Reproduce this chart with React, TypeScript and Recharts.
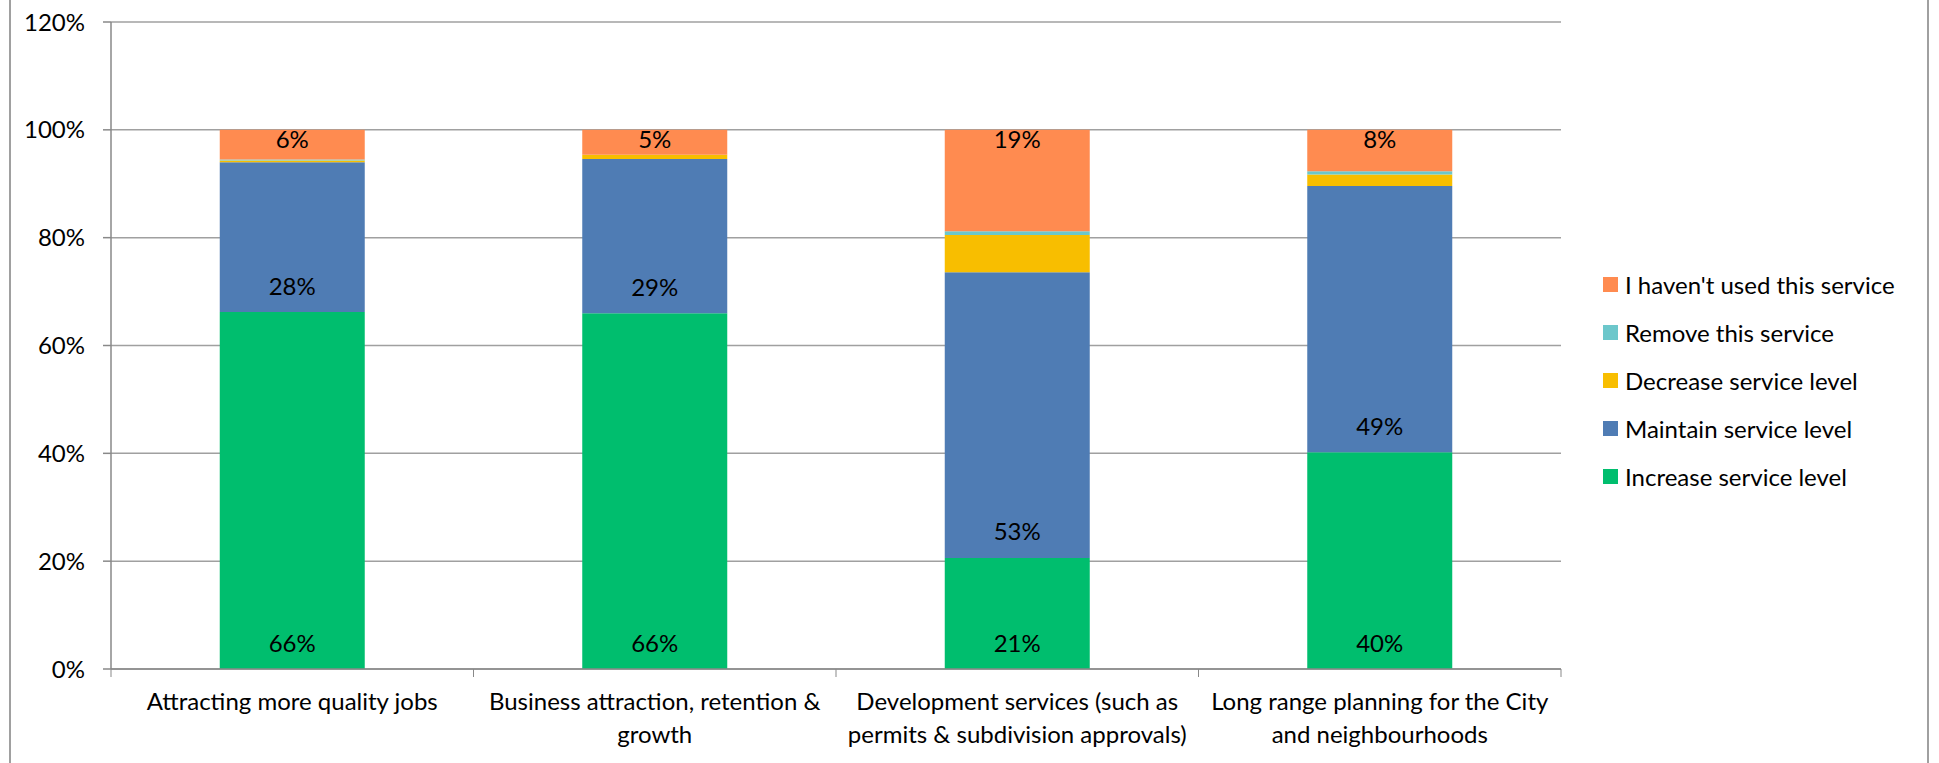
import { BarChart, Bar, XAxis, YAxis, CartesianGrid, Legend, LabelList } from 'recharts'

// service areas, bottom-to-top stack values in percent
const categories = [
  'Attracting more quality jobs',
  'Business attraction, retention &\ngrowth',
  'Development services (such as\npermits & subdivision approvals)',
  'Long range planning for the City\nand neighbourhoods',
]
const increase = [66.2, 66.0, 20.6, 40.2]
const maintain = [27.8, 28.6, 53.0, 49.4]
const decrease = [0.3, 0.8, 6.9, 2.1]
const remove = [0.2, 0, 0.7, 0.6]
const notUsed = [5.5, 4.6, 18.8, 7.7]
const yTicks = [0, 20, 40, 60, 80, 100, 120]

const seriesNames = {
  increase: 'Increase service level',
  maintain: 'Maintain service level',
  decrease: 'Decrease service level',
  remove: 'Remove this service',
  notUsed: "I haven't used this service",
}
// legend reads top-to-bottom opposite to the stack
const legendOrder = ['notUsed', 'remove', 'decrease', 'maintain', 'increase']

const FONT = 'Lato, "Open Sans", sans-serif'
const FS = 24
const W = 1939
const H = 763
const M = { top: 22, right: 378, bottom: 0, left: 0 }
const Y_AXIS_W = 111
const X_AXIS_H = 94
const PLOT_W = W - M.left - M.right - Y_AXIS_W
const PLOT_BOTTOM = H - X_AXIS_H
const BAND = PLOT_W / categories.length
const AXIS_COLOR = '#898989'

const data = categories.map((name, i) => ({
  name,
  increase: increase[i],
  maintain: maintain[i],
  decrease: decrease[i],
  remove: remove[i],
  notUsed: notUsed[i],
}))

function CategoryTick(props: any) {
  const { x, y, payload, index } = props
  const lines = String(payload.value).split('\n')
  const half = BAND / 2
  return (
    <g>
      <line x1={x - half} x2={x - half} y1={PLOT_BOTTOM} y2={PLOT_BOTTOM + 8} stroke={AXIS_COLOR} />
      {index === categories.length - 1 && (
        <line x1={x + half} x2={x + half} y1={PLOT_BOTTOM} y2={PLOT_BOTTOM + 8} stroke={AXIS_COLOR} />
      )}
      <text x={x} y={y} textAnchor="middle" fill="#000" fontSize={FS} fontFamily={FONT}>
        {lines.map((l, i) => (
          <tspan key={i} x={x} dy={i === 0 ? 0 : 33}>
            {l}
          </tspan>
        ))}
      </text>
    </g>
  )
}

// labels sitting near the base of the segment
function BaseLabel(props: any) {
  const { x, y, width, height, value } = props
  return (
    <text
      x={Number(x) + Number(width) / 2}
      y={Number(y) + Number(height) - 27}
      textAnchor="middle"
      dominantBaseline="central"
      fill="#000"
      fontSize={FS}
      fontFamily={FONT}
    >
      {Math.round(value)}%
    </text>
  )
}

// labels near the top of the segment
function TopLabel(props: any) {
  const { x, y, width, value } = props
  return (
    <text
      x={Number(x) + Number(width) / 2}
      y={Number(y) + 9}
      textAnchor="middle"
      dominantBaseline="central"
      fill="#000"
      fontSize={FS}
      fontFamily={FONT}
    >
      {Math.round(value)}%
    </text>
  )
}

function LegendContent(props: any) {
  const payload = props.payload || []
  const items = legendOrder
    .map((key) => payload.find((p: any) => p.dataKey === key))
    .filter(Boolean)
  return (
    <div style={{ fontFamily: FONT, fontSize: FS, color: '#000' }}>
      {items.map((it: any) => (
        <div key={it.value} style={{ display: 'flex', alignItems: 'center', height: 48 }}>
          <span style={{ width: 15, height: 15, background: it.color, marginRight: 7, display: 'inline-block' }} />
          <span style={{ whiteSpace: 'nowrap' }}>{it.value}</span>
        </div>
      ))}
    </div>
  )
}

export default function App() {
  return (
    <div style={{ position: 'absolute', left: 0, top: 0, width: W, height: H, background: '#fff' }}>
      <div style={{ position: 'absolute', left: 9, top: 0, width: 2, height: H, background: '#a0a0a0' }} />
      <div style={{ position: 'absolute', left: 1927, top: 0, width: 2, height: H, background: '#a0a0a0' }} />
      <BarChart width={W} height={H} data={data} margin={M} barCategoryGap="30%">
        <CartesianGrid vertical={false} stroke="#a0a0a0" strokeWidth={1.5} />
        <XAxis
          dataKey="name"
          height={X_AXIS_H}
          interval={0}
          tickLine={false}
          tickSize={8}
          tickMargin={33}
          stroke={AXIS_COLOR}
          strokeWidth={1.5}
          tick={<CategoryTick />}
        />
        <YAxis
          width={Y_AXIS_W}
          domain={[0, 120]}
          ticks={yTicks}
          tickFormatter={(v: number) => `${v}%`}
          tickSize={8}
          tickMargin={18}
          stroke={AXIS_COLOR}
          strokeWidth={1.5}
          tick={{ fill: '#000', fontSize: FS, fontFamily: FONT }}
        />
        <Legend
          layout="vertical"
          align="center"
          verticalAlign="middle"
          content={<LegendContent />}
          wrapperStyle={{ left: 1603, top: 260, width: 320, height: 240 }}
        />
        <Bar dataKey="increase" name={seriesNames.increase} stackId="a" fill="#00BE6E" isAnimationActive={false}>
          <LabelList dataKey="increase" content={<BaseLabel />} />
        </Bar>
        <Bar dataKey="maintain" name={seriesNames.maintain} stackId="a" fill="#4F7CB4" isAnimationActive={false}>
          <LabelList dataKey="maintain" content={<BaseLabel />} />
        </Bar>
        <Bar dataKey="decrease" name={seriesNames.decrease} stackId="a" fill="#F8BE00" isAnimationActive={false} />
        <Bar dataKey="remove" name={seriesNames.remove} stackId="a" fill="#6CC7CB" isAnimationActive={false} />
        <Bar dataKey="notUsed" name={seriesNames.notUsed} stackId="a" fill="#FF8B50" isAnimationActive={false}>
          <LabelList dataKey="notUsed" content={<TopLabel />} />
        </Bar>
      </BarChart>
    </div>
  )
}
